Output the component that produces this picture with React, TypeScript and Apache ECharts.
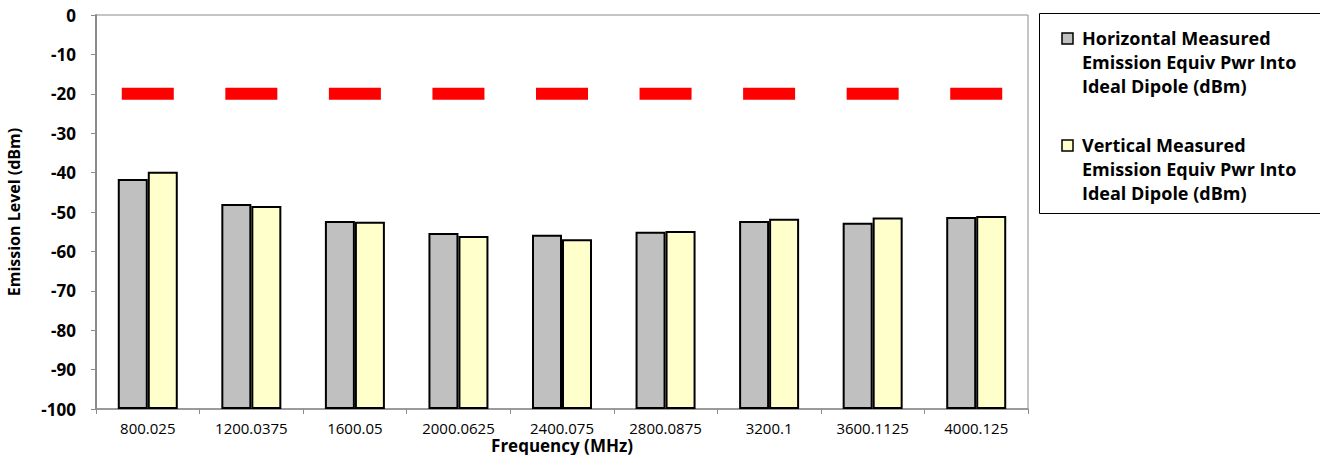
import React, { useEffect, useRef } from "react";
import * as echarts from "echarts";

const categories = ["800.025", "1200.0375", "1600.05", "2000.0625", "2400.075", "2800.0875", "3200.1", "3600.1125", "4000.125"];
const horizontal = [-41.6, -48.0, -52.3, -55.3, -55.8, -55.0, -52.3, -52.7, -51.3];
const vertical = [-39.8, -48.5, -52.5, -56.1, -56.9, -54.8, -51.7, -51.4, -51.0];
const limit = [-20, -20, -20, -20, -20, -20, -20, -20, -20];
const yTicks = { min: -100, max: 0, interval: 10 };

const hName = "Horizontal Measured Emission Equiv Pwr Into Ideal Dipole (dBm)";
const vName = "Vertical Measured Emission Equiv Pwr Into Ideal Dipole (dBm)";
const FONT = "'Open Sans', 'Liberation Sans', sans-serif";

// Bars rise from the axis floor (-100), so values are plotted relative to it
const base = yTicks.min;
const shift = (arr: number[]) => arr.map((v) => v - base);

export default function App() {
  const ref = useRef<HTMLDivElement>(null);
  useEffect(() => {
    if (!ref.current) return;
    const chart = echarts.init(ref.current, null, { renderer: "svg" });
    chart.setOption({
      animation: false,
      textStyle: { fontFamily: FONT },
      grid: {
        left: 96,
        top: 15,
        right: 292,
        bottom: 46,
        containLabel: false,
        outerBoundsMode: "none",
        show: true,
        borderColor: "#8c8c8c",
        borderWidth: 1,
      },
      xAxis: {
        type: "category",
        data: categories,
        name: "Frequency (MHz)",
        nameLocation: "middle",
        nameGap: 27,
        nameMoveOverlap: false,
        nameTextStyle: { fontFamily: FONT, fontWeight: "bold", fontSize: 17, color: "#000", lineHeight: 18 },
        axisLine: { lineStyle: { color: "#8c8c8c", width: 1.5 } },
        axisTick: { show: true, length: 5, lineStyle: { color: "#8c8c8c" } },
        axisLabel: { fontFamily: FONT, fontSize: 15, color: "#000", margin: 11, lineHeight: 15 },
      },
      yAxis: {
        type: "value",
        min: 0,
        max: yTicks.max - yTicks.min,
        interval: yTicks.interval,
        name: "Emission Level (dBm)",
        nameLocation: "middle",
        nameGap: 74,
        nameMoveOverlap: false,
        nameTextStyle: { fontFamily: FONT, fontWeight: "bold", fontSize: 16, color: "#000" },
        axisLine: { show: true, lineStyle: { color: "#8c8c8c", width: 2 } },
        axisTick: { show: true, length: 5, lineStyle: { color: "#8c8c8c" } },
        splitLine: { show: false },
        axisLabel: {
          fontFamily: FONT,
          fontSize: 17,
          fontWeight: "bold",
          color: "#000",
          margin: 20,
          formatter: (v: number) => String(Math.round(v + base)),
        },
      },
      series: [
        {
          name: hName,
          type: "bar",
          data: shift(horizontal),
          barWidth: 30,
          barGap: "0%",
          itemStyle: { color: "#c0c0c0", borderColor: "#000", borderWidth: 2 },
        },
        {
          name: vName,
          type: "bar",
          data: shift(vertical),
          barWidth: 30,
          barGap: "0%",
          itemStyle: { color: "#ffffcc", borderColor: "#000", borderWidth: 2 },
        },
        {
          name: "Limit",
          type: "scatter",
          data: shift(limit),
          symbol: "rect",
          symbolSize: [52, 12],
          itemStyle: { color: "#ff0000", opacity: 1 },
          z: 5,
        },
      ],
      graphic: [
        { type: "rect", shape: { x: 1039.5, y: 13.5, width: 290, height: 200 }, style: { fill: "#fff", stroke: "#000", lineWidth: 1 } },
        { type: "rect", shape: { x: 1062, y: 33, width: 11, height: 11 }, style: { fill: "#c0c0c0", stroke: "#000", lineWidth: 1.5 } },
        {
          type: "text",
          x: 1082,
          y: 26,
          style: { text: "Horizontal Measured\nEmission Equiv Pwr Into\nIdeal Dipole (dBm)", font: `bold 18px ${FONT}`, fill: "#000", lineHeight: 24 },
        },
        { type: "rect", shape: { x: 1062, y: 140, width: 11, height: 11 }, style: { fill: "#ffffcc", stroke: "#000", lineWidth: 1.5 } },
        {
          type: "text",
          x: 1082,
          y: 133,
          style: { text: "Vertical Measured\nEmission Equiv Pwr Into\nIdeal Dipole (dBm)", font: `bold 18px ${FONT}`, fill: "#000", lineHeight: 24 },
        },
      ],
    });
    return () => chart.dispose();
  }, []);
  return <div ref={ref} style={{ width: 1320, height: 455, position: "absolute", left: 0, top: 0 }} />;
}
